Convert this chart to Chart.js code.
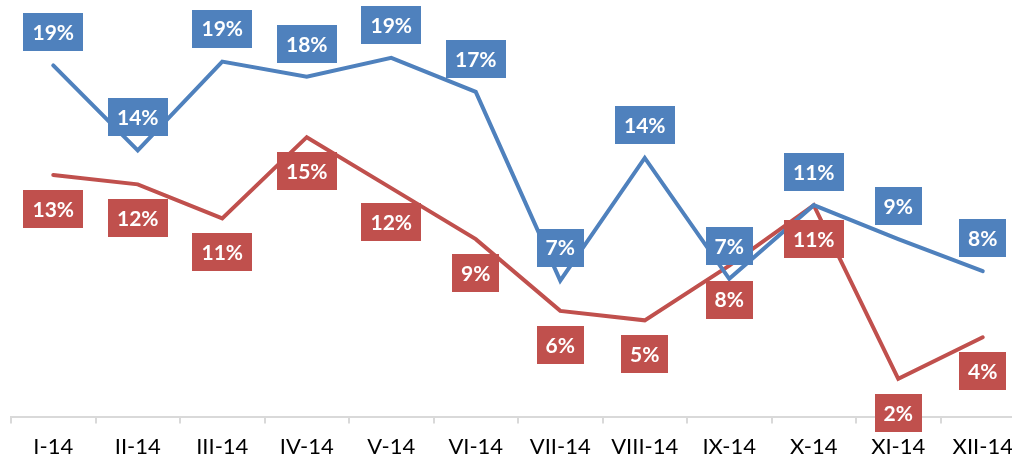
<!DOCTYPE html>
<html>
<head>
<meta charset="utf-8">
<script src="https://cdn.jsdelivr.net/npm/chart.js@4.4.1/dist/chart.umd.min.js"></script>
<style>
    html, body { margin: 0; padding: 0; overflow: hidden; background: #fff; }
    #wrap { width: 1026px; height: 470px; }
</style>
</head>
<body>
<div id="wrap"><canvas id="chart" width="1026" height="470"></canvas></div>
<script>
const months = ['I-14', 'II-14', 'III-14', 'IV-14', 'V-14', 'VI-14',
                'VII-14', 'VIII-14', 'IX-14', 'X-14', 'XI-14', 'XII-14'];
// values in %
const seriesBlue = [18.6, 14.1, 18.8, 18.0, 19.0, 17.2, 7.2, 13.7, 7.3, 11.2, 9.4, 7.7];
const seriesRed  = [12.8, 12.3, 10.5, 14.8, 12.1, 9.4, 5.6, 5.1, 8.0, 11.2, 2.0, 4.2];

const blue = '#4F81BD';
const red = '#C0504D';

// boxed value labels, drawn on top of all lines
const boxLabels = {
    id: 'boxLabels',
    afterDatasetsDraw(chart) {
        const ctx = chart.ctx;
        ctx.save();
        ctx.font = 'bold 21px Lato';
        ctx.textAlign = 'center';
        ctx.textBaseline = 'middle';
        chart.data.datasets.forEach((ds, i) => {
            const meta = chart.getDatasetMeta(i);
            meta.data.forEach((pt, j) => {
                const txt = Math.round(ds.data[j]) + '%';
                const w = Math.round(ctx.measureText(txt).width + 18);
                const h = 38;
                const top = ds.labelPos === 'above' ? pt.y - 14 - h : pt.y + 15;
                ctx.fillStyle = ds.borderColor;
                ctx.fillRect(Math.round(pt.x - w / 2), Math.round(top), w, h);
                ctx.fillStyle = '#fff';
                ctx.fillText(txt, pt.x, top + h / 2 + 1);
            });
        });
        ctx.restore();
    }
};

new Chart(document.getElementById('chart'), {
    type: 'line',
    data: {
        labels: months,
        datasets: [{
            data: seriesBlue,
            borderColor: blue,
            labelPos: 'above'
        }, {
            data: seriesRed,
            borderColor: red,
            labelPos: 'below'
        }]
    },
    options: {
        responsive: false,
        animation: false,
        elements: {
            line: { borderWidth: 4, tension: 0, borderCapStyle: 'round' },
            point: { radius: 0, hoverRadius: 0 }
        },
        layout: { padding: { left: 11, right: 1, top: 39, bottom: 0 } },
        plugins: { legend: { display: false }, tooltip: { enabled: false } },
        scales: {
            x: {
                offset: true,
                grid: { offset: true, drawOnChartArea: false, tickLength: 7, color: '#D9D9D9', lineWidth: 2 },
                border: { color: '#D9D9D9', width: 2 },
                ticks: { color: '#000', font: { family: 'Lato', size: 22 }, padding: 10, maxRotation: 0, autoSkip: false }
            },
            y: { display: false, min: 0, max: 20 }
        }
    },
    plugins: [boxLabels]
});
</script>
</body>
</html>
